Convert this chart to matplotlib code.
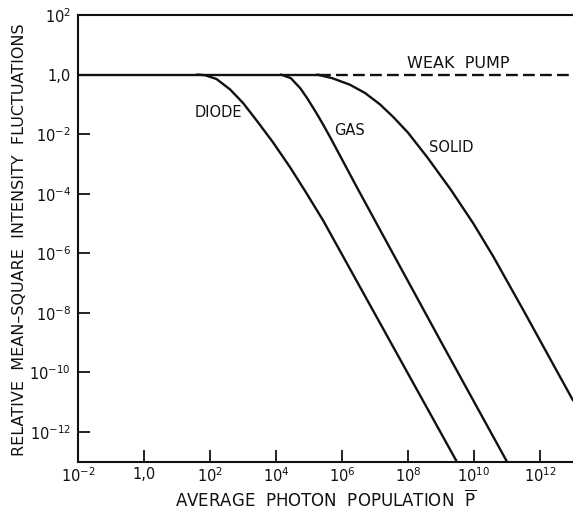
import numpy as np
import matplotlib
matplotlib.use("Agg")
import matplotlib.pyplot as plt
from matplotlib.ticker import FixedLocator, FixedFormatter, NullLocator

plt.rcParams['font.family'] = ['DejaVu Sans']
plt.rcParams['mathtext.fontset'] = 'dejavusans'

# log10 of average photon population / relative fluctuation for each laser type
diode_logp = [1.6, 1.85, 2.2, 2.61, 3.0, 3.42, 3.9, 4.42, 4.9, 5.43, 5.89, 7.0, 8.0, 9.49]
diode_logv = [0.0, -0.02, -0.15, -0.5, -0.95, -1.55, -2.26, -3.1, -3.94, -4.9, -5.82, -8.04, -10.04, -13.02]

gas_logp = [4.15, 4.45, 4.73, 4.95, 5.23, 5.45, 5.65, 5.92, 6.44, 6.95, 7.5, 9.0, 11.01]
gas_logv = [0.0, -0.12, -0.45, -0.8, -1.3, -1.72, -2.12, -2.68, -3.76, -4.8, -5.92, -8.97, -13.02]

solid_logp = [5.25, 5.7, 6.24, 6.7, 7.15, 7.55, 8.0, 8.6, 9.3, 9.98, 10.58, 11.5, 13.0]
solid_logv = [0.0, -0.12, -0.34, -0.62, -1.0, -1.42, -1.95, -2.8, -3.87, -5.0, -6.1, -7.92, -10.94]

# weak-pump level: shared solid part, then dashed continuation
pump_solid_logp = [-2.0, 5.3]
pump_dash_logp = [5.3, 13.0]
pump_level = 1.0

x_ticks = [1e-2, 1e0, 1e2, 1e4, 1e6, 1e8, 1e10, 1e12]
x_labels = ['$10^{-2}$', '1,0', '$10^{2}$', '$10^{4}$', '$10^{6}$', '$10^{8}$', '$10^{10}$', '$10^{12}$']
y_ticks = [1e2, 1e0, 1e-2, 1e-4, 1e-6, 1e-8, 1e-10, 1e-12]
y_labels = ['$10^{2}$', '1,0', '$10^{-2}$', '$10^{-4}$', '$10^{-6}$', '$10^{-8}$', '$10^{-10}$', '$10^{-12}$']

curve_labels = [
    ('DIODE', 2.26, -1.28, 10.5),
    ('GAS', 6.24, -1.89, 10.5),
    ('SOLID', 9.32, -2.46, 10.5),
    ('WEAK  PUMP', 9.53, 0.37, 11.5),
]

fig = plt.figure(figsize=(5.73, 5.12), dpi=100)
ax = fig.add_axes([0.136, 0.0982, 0.864, 0.8725])
ax.set_xscale('log')
ax.set_yscale('log')
ax.set_xlim(1e-2, 1e13)
ax.set_ylim(1e-13, 1e2)

lw = 1.7
ink = '#111111'
for lp, lv in [(diode_logp, diode_logv), (gas_logp, gas_logv), (solid_logp, solid_logv)]:
    ax.plot(10.0 ** np.array(lp), 10.0 ** np.array(lv), color=ink, lw=lw,
            solid_capstyle='round', solid_joinstyle='round')

ax.plot(10.0 ** np.array(pump_solid_logp), [pump_level] * 2, color=ink, lw=lw)
ax.plot(10.0 ** np.array(pump_dash_logp), [pump_level] * 2, color=ink, lw=lw,
        dashes=(5, 2.2))

for text, lx, ly, fs in curve_labels:
    ax.text(10.0 ** lx, 10.0 ** ly, text, ha='center', va='center',
            fontsize=fs, color=ink)

ax.xaxis.set_major_locator(FixedLocator(x_ticks))
ax.xaxis.set_major_formatter(FixedFormatter(x_labels))
ax.yaxis.set_major_locator(FixedLocator(y_ticks))
ax.yaxis.set_major_formatter(FixedFormatter(y_labels))
ax.xaxis.set_minor_locator(NullLocator())
ax.yaxis.set_minor_locator(NullLocator())
ax.tick_params(direction='in', length=8.5, width=1.3, colors=ink, labelsize=10.5)
ax.tick_params(axis='x', pad=3.5)
ax.tick_params(axis='y', pad=5)

for side in ['left', 'bottom', 'top']:
    ax.spines[side].set_linewidth(1.5)
    ax.spines[side].set_color(ink)
ax.spines['right'].set_visible(False)

ax.set_xlabel(r'AVERAGE  PHOTON  POPULATION  $\overline{\mathrm{P}}$', fontsize=12,
              color=ink)
ax.set_ylabel('RELATIVE  MEAN\u2013SQUARE  INTENSITY  FLUCTUATIONS', fontsize=11.5,
              color=ink)
ax.xaxis.set_label_coords(0.5, -0.062)
ax.yaxis.set_label_coords(-0.103, 0.496)

fig.savefig('out.png', dpi=100)
